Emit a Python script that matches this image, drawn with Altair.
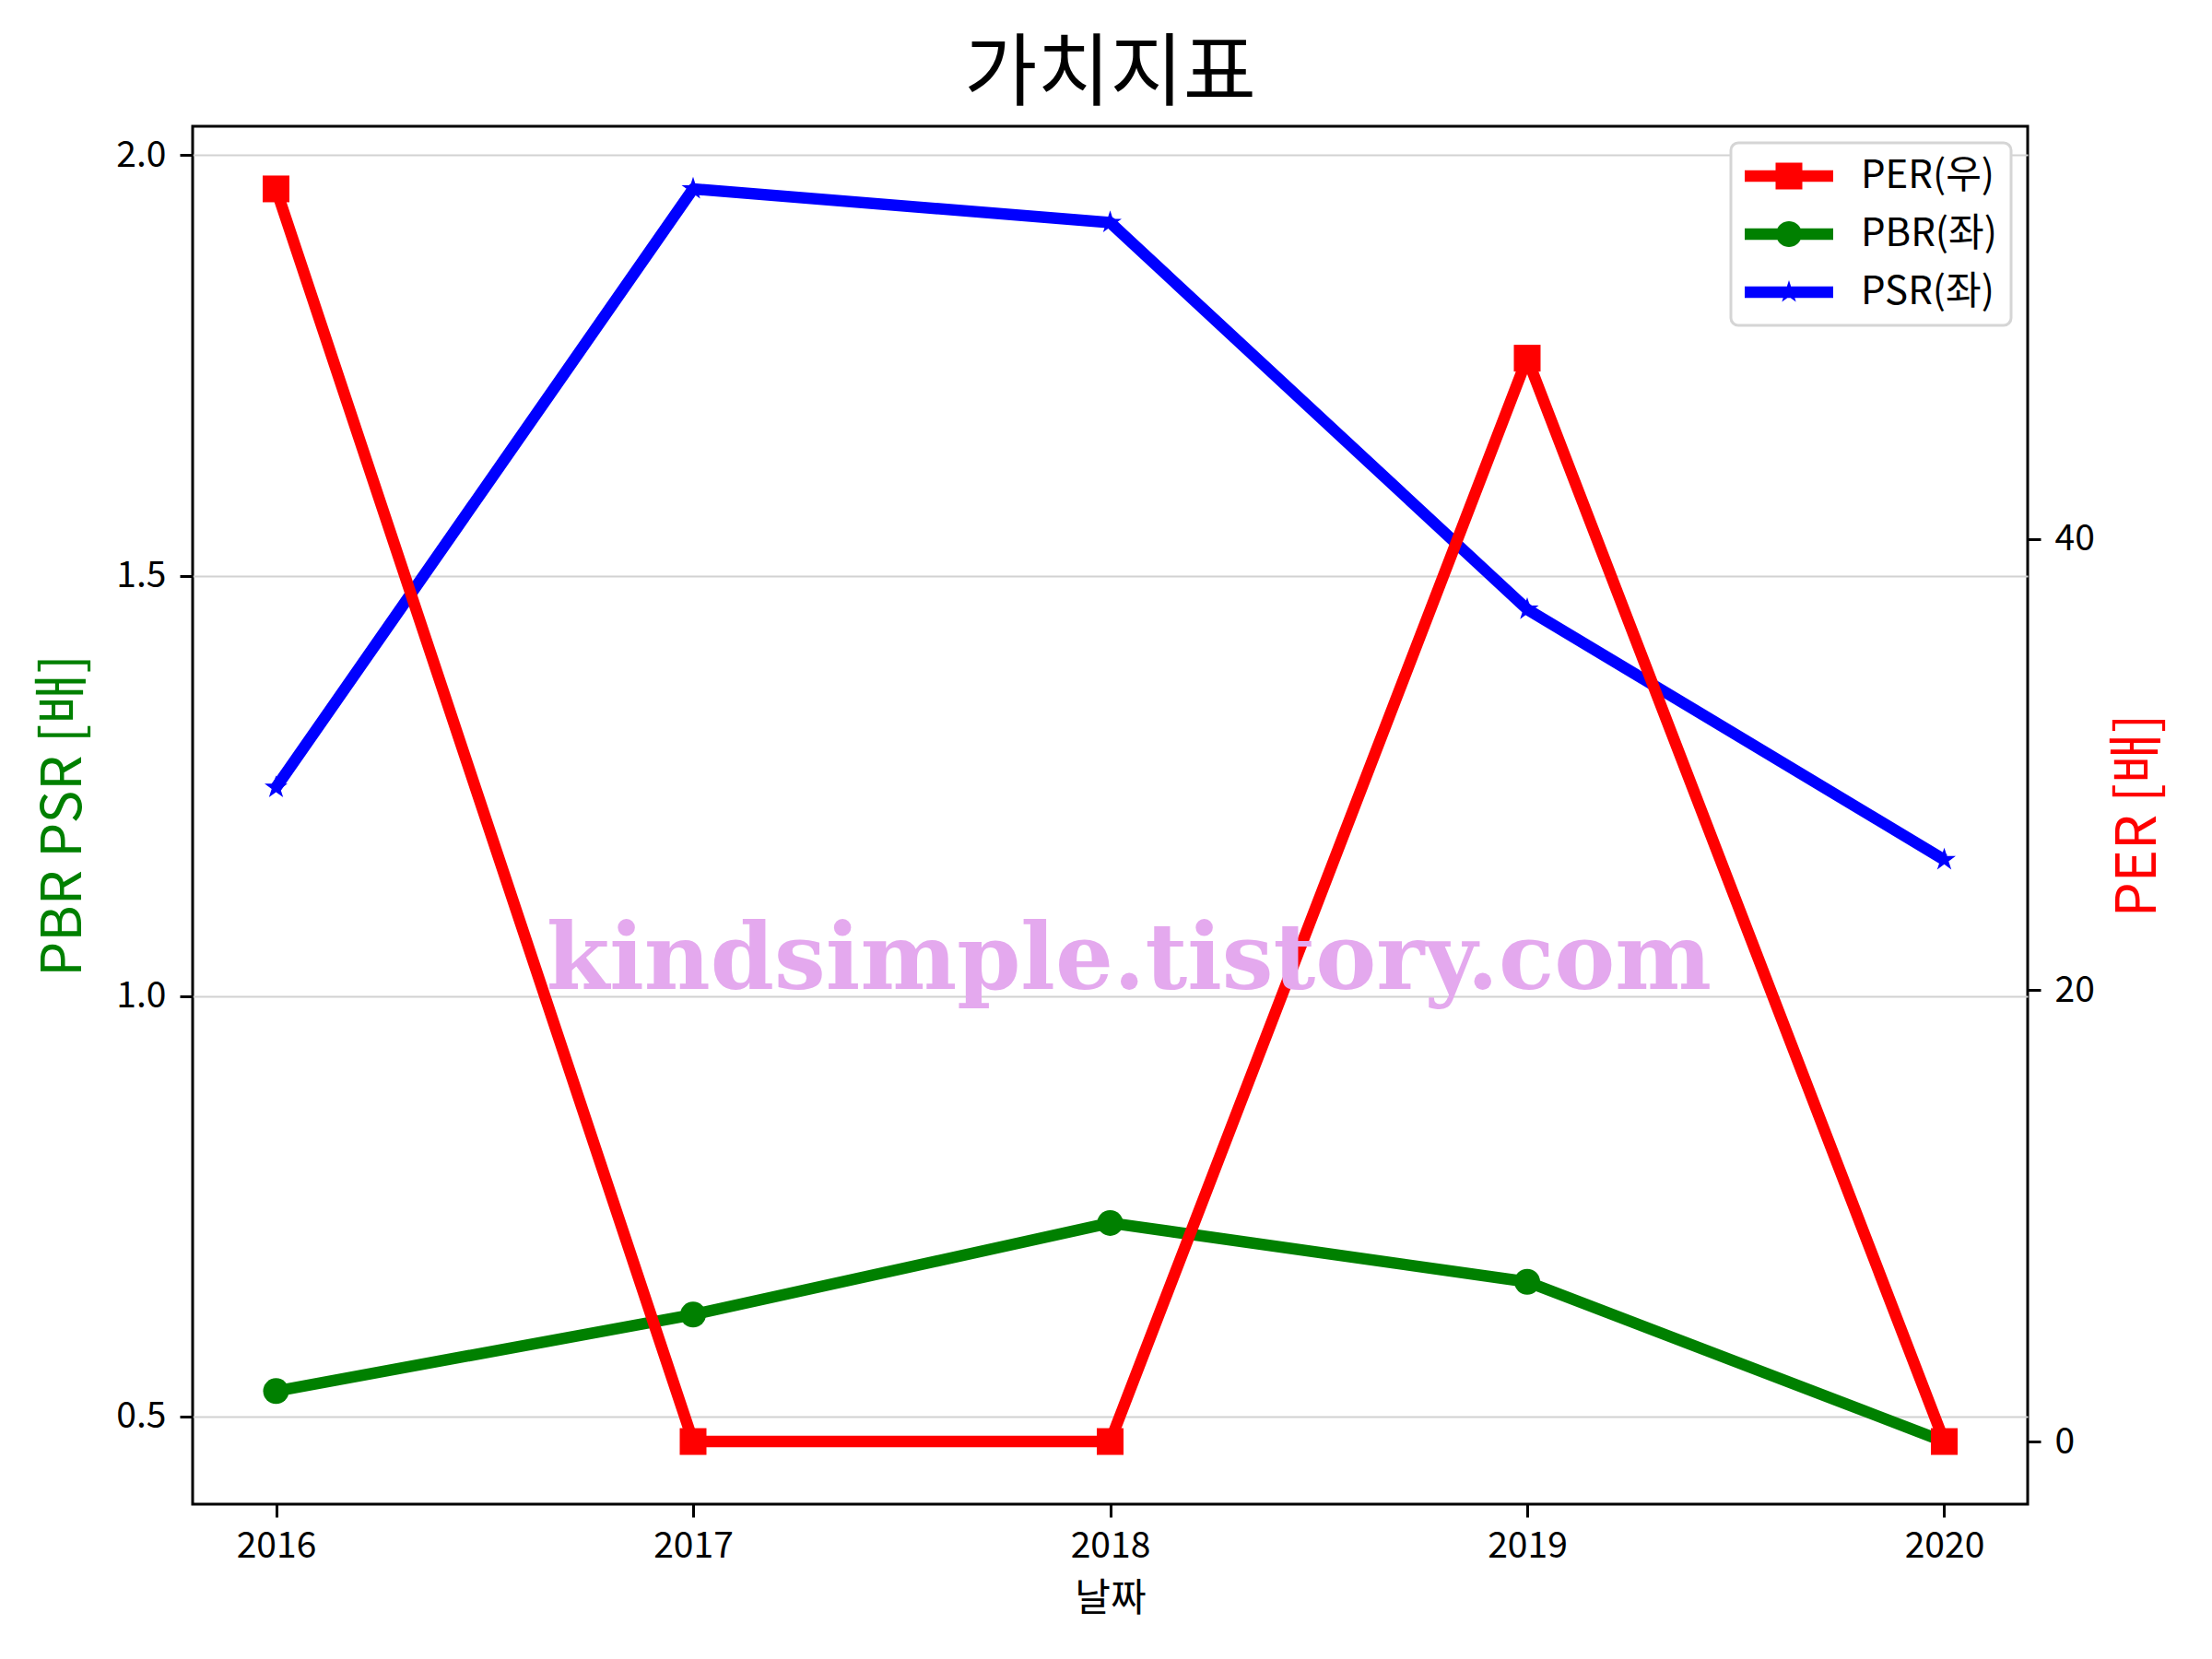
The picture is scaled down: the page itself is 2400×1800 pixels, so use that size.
import altair as alt
import pandas as pd
import numpy as np

# ---------------- data ----------------
years = [2016, 2017, 2018, 2019, 2020]
per_values = [55.5, 0.0, 0.0, 48.0, 0.0]
pbr_values = [0.530, 0.621, 0.730, 0.660, 0.470]
psr_values = [1.248, 1.960, 1.920, 1.460, 1.162]
series_names = ["PER(우)", "PBR(좌)", "PSR(좌)"]
series_colors = ["#ff0000", "#008000", "#0000ff"]
left_ticks = [0.5, 1.0, 1.5, 2.0]
right_ticks = [0, 20, 40]
title_text = "가치지표"
x_title = "날짜"
left_title = "PBR PSR [배]"
right_title = "PER [배]"
watermark_text = ["kindsimple.tistory.com"]
watermark_x = [2018.045]
watermark_y = [1.008]

# ---------------- style ----------------
FONT = "Noto Sans CJK KR"
W, H = 1991, 1495
x_domain = [2015.8, 2020.2]
left_domain = [0.3955, 2.0345]
right_domain = [-2.775, 58.275]
LW = 12.5


def rect_path(hx, hy):
    return f"M{-hx},{-hy}H{hx}V{hy}H{-hx}Z"


def circle_path(r, n=40):
    pts = [(r * np.cos(2 * np.pi * k / n), r * np.sin(2 * np.pi * k / n)) for k in range(n)]
    return "M" + "L".join(f"{a:.4f},{b:.4f}" for a, b in pts) + "Z"


def star_path(R):
    pts = []
    for k in range(10):
        ang = np.deg2rad(-90 + 36 * k)
        rr = R if k % 2 == 0 else R * 0.381966
        pts.append((rr * np.cos(ang), rr * np.sin(ang)))
    return "M" + "L".join(f"{a:.4f},{b:.4f}" for a, b in pts) + "Z"


STAR = star_path(1.0)
legend_line = rect_path(2.4, 0.3125)
legend_shapes = [
    legend_line + " " + rect_path(0.725, 0.725),
    legend_line + " " + circle_path(0.7),
    legend_line + " " + star_path(0.65),
]

df = pd.DataFrame({"year": years, "PER": per_values, "PBR": pbr_values, "PSR": psr_values})

tick_common = dict(
    tickColor="black", tickWidth=3, tickSize=14, labelPadding=15,
    labelFontSize=39, labelFont=FONT, labelColor="black", domain=False,
    labelFlush=False, labelOverlap=False, titleFont=FONT, titleFontWeight="normal",
)

x_enc = alt.X(
    "year:Q",
    scale=alt.Scale(domain=x_domain, nice=False, zero=False),
    axis=alt.Axis(
        orient="bottom", values=years, format="d", grid=False, title=x_title,
        titleFontSize=42, titleColor="black", titleX=W / 2, titleY=102,
        titleAlign="center", titleBaseline="middle", **{**tick_common, "labelPadding": 12},
    ),
)

left_scale = alt.Scale(domain=left_domain, nice=False, zero=False)
left_axis = alt.Axis(
    orient="left", values=left_ticks, format=".1f", grid=True, gridColor="#d2d2d2",
    gridWidth=2, title=left_title, titleColor="#008000", titleFontSize=60,
    titleAngle=270, titleX=-139.5, titleY=H / 2, titleAlign="center",
    titleBaseline="middle", **tick_common,
)
right_axis = alt.Axis(
    orient="right", values=right_ticks, format="d", grid=False, title=right_title,
    titleColor="#ff0000", titleFontSize=60, titleAngle=270, titleX=120,
    titleY=H / 2, titleAlign="center", titleBaseline="middle", **tick_common,
)

base = alt.Chart(df)

pbr_line = base.mark_line(color="#008000", strokeWidth=LW, strokeJoin="round").encode(
    x=x_enc, y=alt.Y("PBR:Q", scale=left_scale, axis=left_axis))
pbr_pts = base.mark_point(shape="circle", size=784, filled=True, color="#008000",
                          opacity=1, strokeWidth=0).encode(
    x=x_enc, y=alt.Y("PBR:Q", scale=left_scale, axis=left_axis))
psr_line = base.mark_line(color="#0000ff", strokeWidth=LW, strokeJoin="round").encode(
    x=x_enc, y=alt.Y("PSR:Q", scale=left_scale, axis=left_axis))
psr_pts = base.mark_point(shape=STAR, size=690, filled=True, color="#0000ff",
                          opacity=1, strokeWidth=0).encode(
    x=x_enc, y=alt.Y("PSR:Q", scale=left_scale, axis=left_axis))

right_scale = alt.Scale(domain=right_domain, nice=False, zero=False)
per_line = base.mark_line(color="#ff0000", strokeWidth=LW, strokeJoin="round").encode(
    x=x_enc, y=alt.Y("PER:Q", scale=right_scale, axis=right_axis))
per_pts = base.mark_point(shape="square", size=841, filled=True, color="#ff0000",
                          opacity=1, strokeWidth=0).encode(
    x=x_enc, y=alt.Y("PER:Q", scale=right_scale, axis=right_axis))

wm_df = pd.DataFrame({"year": watermark_x, "wy": watermark_y, "t": watermark_text})
watermark = alt.Chart(wm_df).mark_text(
    font="DejaVu Serif", fontWeight="bold", fontSize=99, color="#e4a9ee",
    align="center", baseline="alphabetic",
).encode(
    x=x_enc,
    y=alt.Y("wy:Q", scale=alt.Scale(domain=left_domain, nice=False, zero=False), axis=None),
    text="t:N",
)

leg = alt.Legend(
    title=None, orient="top-right", offset=18, padding=15, symbolSize=1600,
    symbolOffset=27, labelOffset=57, labelFontSize=42, labelFont=FONT,
    labelColor="black", rowPadding=21, fillColor="white", strokeColor="#d5d5d5",
    symbolStrokeWidth=0, labelLimit=500, symbolOpacity=1,
)
leg_df = pd.DataFrame({"series": series_names})
legend_layer = alt.Chart(leg_df).transform_filter("false").mark_point(
    filled=True, opacity=1, strokeWidth=0
).encode(
    color=alt.Color("series:N", scale=alt.Scale(domain=series_names, range=series_colors), legend=leg),
    shape=alt.Shape("series:N", scale=alt.Scale(domain=series_names, range=legend_shapes), legend=leg),
)

left_layer = alt.layer(pbr_line, pbr_pts, psr_line, psr_pts)
right_layer = alt.layer(per_line, per_pts)

chart = alt.layer(left_layer, right_layer, watermark, legend_layer).resolve_scale(
    y="independent"
).properties(
    width=W, height=H,
    title=alt.TitleParams(title_text, fontSize=86, font=FONT, fontWeight="normal",
                          color="black", anchor="middle", offset=-31, baseline="middle"),
    autosize=alt.AutoSizeParams(type="none"),
    padding={"left": 201, "top": 129, "right": 190, "bottom": 140},
    background="white",
).configure_view(stroke="black", strokeWidth=3).configure_legend(
    strokeWidth=3, cornerRadius=8
)

chart.save("out.html", embed_options={"renderer": "svg", "actions": False})
